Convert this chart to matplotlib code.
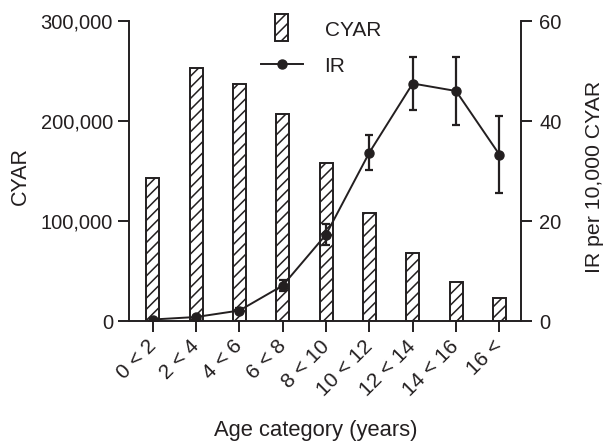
import matplotlib
matplotlib.use("Agg")
import matplotlib.pyplot as plt
import matplotlib.patches as mpatches
from matplotlib.lines import Line2D
from matplotlib.legend_handler import HandlerPatch
from matplotlib.ticker import FuncFormatter

plt.rcParams['font.family'] = ['Liberation Sans', 'DejaVu Sans']
plt.rcParams['hatch.linewidth'] = 1.1

categories = ["0 < 2", "2 < 4", "4 < 6", "6 < 8", "8 < 10", "10 < 12", "12 < 14", "14 < 16", "16 <"]
cyar = [142700, 252700, 237300, 206700, 158300, 108300, 68000, 39300, 22700]
ir = [0.3, 0.8, 2.1, 7.1, 17.3, 33.7, 47.5, 46.0, 33.3]
ir_err = [0.2, 0.3, 0.5, 1.1, 2.1, 3.5, 5.3, 6.8, 7.7]

col = '#231f20'

fig = plt.figure(figsize=(6.06, 4.44), dpi=100)
ax = fig.add_axes([129/606, 1-321/444, (521-129)/606, 300/444])
ax2 = ax.twinx()

x = list(range(len(categories)))
ax.bar(x, cyar, width=0.3, facecolor='white', edgecolor=col, hatch='///', linewidth=1.4, zorder=2)
ax.set_ylim(0, 300000)
ax.set_xlim(-0.55, 8.5)
ax.set_yticks([0, 100000, 200000, 300000])
ax.yaxis.set_major_formatter(FuncFormatter(lambda v, p: f"{int(v):,}"))
ax.set_xticks(x)
ax.set_xticklabels(categories, rotation=45, ha='right', rotation_mode='anchor', va='center', fontsize=15)

ax2.errorbar(x, ir, yerr=ir_err, color=col, marker='o', markersize=6.5, linewidth=1.4,
             elinewidth=1.6, capsize=2.7, capthick=1.6)
ax2.set_ylim(0, 60)
ax2.set_yticks([0, 20, 40, 60])

for a in (ax, ax2):
    a.spines['top'].set_visible(False)
    for s in a.spines.values():
        s.set_linewidth(1.4)
        s.set_color(col)
    a.tick_params(length=8, width=1.4, color=col, labelcolor=col)
    a.tick_params(axis='y', labelsize=14.5)
ax.spines['right'].set_visible(False)
ax2.spines['left'].set_visible(False)
ax2.spines['bottom'].set_visible(False)
ax.tick_params(axis='x', pad=8)
ax.tick_params(axis='y', pad=3.5)
ax2.tick_params(axis='y', pad=5)

ax.set_ylabel('CYAR', fontsize=15.5, color=col)
ax.yaxis.set_label_coords(-0.25, 0.482)
ax2.set_ylabel('IR per 10,000 CYAR', fontsize=15.3, color=col)
ax2.yaxis.set_label_coords(1.163, 0.482)
ax.set_xlabel('Age category (years)', fontsize=15.8, color=col)
ax.xaxis.set_label_coords(0.477, -0.33)


def narrow_patch(legend, orig_handle, xdescent, ydescent, width, height, fontsize):
    w = width * 0.31
    h = height * 1.85
    return mpatches.Rectangle((-xdescent + (width - w) / 2, -ydescent + height / 2 - h / 2 + 1), w, h)

h_bar = mpatches.Patch(facecolor='white', edgecolor=col, hatch='///', linewidth=1.4)
h_line = Line2D([], [], color=col, marker='o', markersize=6.5, linewidth=1.4)
leg = ax.legend([h_bar, h_line], ['CYAR', 'IR'], loc='upper left',
                bbox_to_anchor=(261/606, 1 - 21/444), bbox_transform=fig.transFigure,
                frameon=False, fontsize=15, handlelength=2.0, labelspacing=0.8,
                handletextpad=1.05, borderpad=0, borderaxespad=0,
                handler_map={mpatches.Patch: HandlerPatch(patch_func=narrow_patch)})
for t in leg.get_texts():
    t.set_color(col)

fig.savefig('out.png', dpi=100)
